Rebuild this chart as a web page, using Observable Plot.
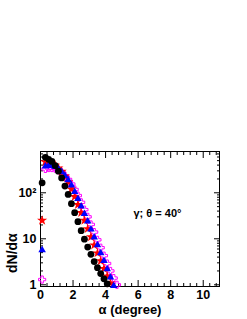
<!DOCTYPE html>
<html><head><meta charset="utf-8">
<script src="https://cdn.jsdelivr.net/npm/d3@7"></script>
<script src="https://cdn.jsdelivr.net/npm/@observablehq/plot@0.6"></script>
<style>html,body{margin:0;padding:0;background:#fff;}</style>
</head><body><div id="chart"></div>
<script>
const alphaBins = [0.1,0.3,0.5,0.7,0.9,1.1,1.3,1.5,1.7,1.9,2.1,2.3,2.5,2.7,2.9,3.1,3.3,3.5,3.7,3.9,4.1,4.3,4.5,4.7];
const blackCircles = [165,590,535,480,390,295,210,140,92,58,37,23.5,15,9.8,6.6,4.6,3.2,2.35,1.75,1.35,1.05];
const redStars = [25,470,455,430,395,345,290,230,170,120,82,55,37,25,16.5,11,7.3,4.9,3.3,2.25,1.55,1.08];
const blueTriangles = [5.7,375,390,385,365,330,285,235,190,145,105,74,51,35,24,16,10.8,7.3,4.9,3.3,2.2,1.45,0.95];
const magentaCrosses = [1.3,330,345,345,335,310,275,235,195,155,118,87,62,43,30,20.5,14,9.5,6.4,4.3,2.9,2.0,1.4,1.0];
const xTickLabels = [0,2,4,6,8,10];
const yTickMajor = [1,10,100];
const yTickLabels = ["1","10","10\u00b2"];
const yTickMinor = [2,3,4,5,6,7,8,9,20,30,40,50,60,70,80,90,200,300,400,500,600,700];
const xTickMinor = d3.range(0.4, 11, 0.4).filter(v => Math.abs(v/2 - Math.round(v/2)) > 1e-6);
const annotation = "\u03b3; \u03b8 = 40\u00b0";

const rows = (vals) => vals.map((v, i) => ({alpha: alphaBins[i], value: v}));
const yDomain = [0.918, 790];
const font = {fontFamily: "Liberation Sans, Arial, sans-serif", fontWeight: "bold"};

const chart = Plot.plot({
  width: 247, height: 319,
  marginLeft: 40, marginRight: 28, marginTop: 151, marginBottom: 33,
  style: {fontFamily: "Liberation Sans, Arial, sans-serif", fontWeight: "bold", fontSize: "12px", background: "#fff", color: "#000"},
  x: {domain: [0, 11]},
  y: {type: "log", domain: yDomain},
  marks: [
    Plot.frame({stroke: "#000"}),
    Plot.axisX({anchor: "bottom", ticks: xTickLabels, tickSize: -6, fill: "none", label: null}),
    Plot.axisX({anchor: "bottom", ticks: xTickMinor, tickSize: -3, fill: "none", label: null}),
    Plot.axisX({anchor: "top", ticks: xTickLabels, tickSize: -6, fill: "none", label: null}),
    Plot.axisX({anchor: "top", ticks: xTickMinor, tickSize: -3, fill: "none", label: null}),
    Plot.axisY({anchor: "left", ticks: yTickMajor, tickSize: -6, fill: "none", label: null}),
    Plot.axisY({anchor: "left", ticks: yTickMinor, tickSize: -3, fill: "none", label: null}),
    Plot.axisY({anchor: "right", ticks: yTickMajor, tickSize: -6, fill: "none", label: null}),
    Plot.axisY({anchor: "right", ticks: yTickMinor, tickSize: -3, fill: "none", label: null}),
    Plot.axisX({anchor: "bottom", ticks: xTickLabels, tickSize: 0, tickPadding: 4, fontSize: 12.5, label: null, ...font}),
    Plot.axisY({anchor: "left", ticks: yTickMajor, tickSize: 0, tickPadding: 4, fontSize: 12.5, label: null,
      tickFormat: d => yTickLabels[yTickMajor.indexOf(d)], ...font}),
    Plot.text(["\u03b1 (degree)"], {text: d => d, frameAnchor: "bottom", dy: 27, lineAnchor: "bottom", fontSize: 13, ...font}),
    Plot.text(["dN/d\u03b1"], {text: d => d, frameAnchor: "left", dx: -28, dy: 54, rotate: -90, lineAnchor: "middle", fontSize: 14, ...font}),
    Plot.text([annotation], {text: d => d, frameAnchor: "top-left", dx: 93, dy: 62, textAnchor: "start", lineAnchor: "middle", fontSize: 11, ...font}),
    Plot.dot(rows(magentaCrosses), {x: "alpha", y: "value", symbol: d3.symbolCross, r: 3, fill: "none", stroke: "#ff00ff", strokeWidth: 1}),
    Plot.dot(rows(redStars), {x: "alpha", y: "value", symbol: "star", r: 3.2, fill: "#ff0000", stroke: "none"}),
    Plot.dot(rows(blueTriangles), {x: "alpha", y: "value", symbol: "triangle", r: 2.8, fill: "#0000ff", stroke: "none"}),
    Plot.dot(rows(blackCircles), {x: "alpha", y: "value", symbol: "circle", r: 3.4, fill: "#000", stroke: "none"})
  ]
});
document.getElementById("chart").appendChild(chart);
</script>
</body></html>
